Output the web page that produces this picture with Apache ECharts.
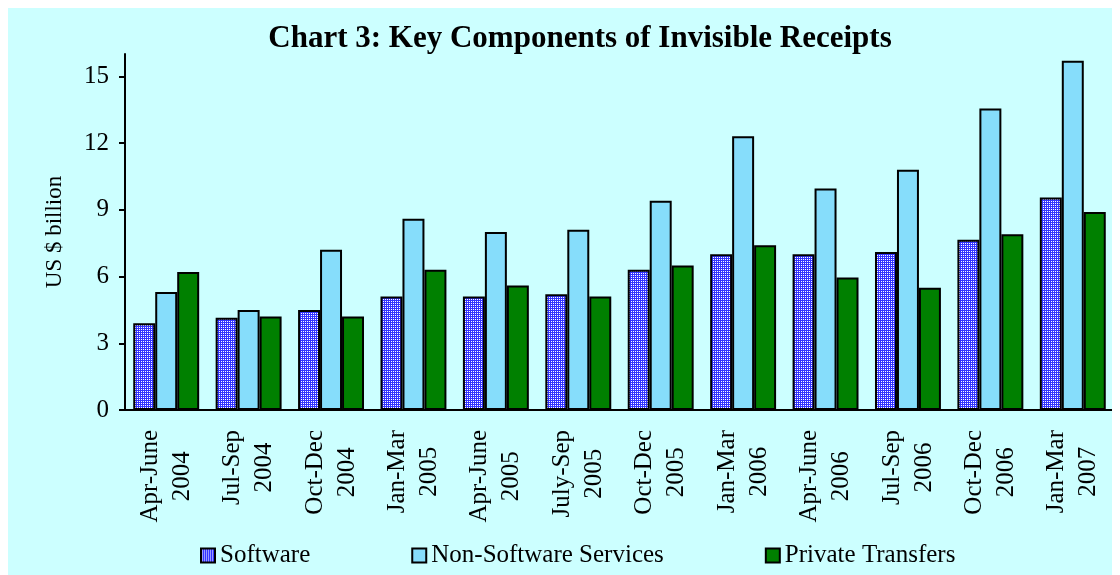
<!DOCTYPE html>
<html>
<head>
<meta charset="utf-8">
<script src="https://cdn.jsdelivr.net/npm/echarts@6/dist/echarts.min.js"></script>
<style>
  body { margin: 8px; background: #ffffff; }
  #chart { width: 1112px; height: 567px; }
</style>
</head>
<body>
<div id="chart"></div>
<script>
// data
var quarters = ["Apr-June", "Jul-Sep", "Oct-Dec", "Jan-Mar", "Apr-June", "July-Sep",
                "Oct-Dec", "Jan-Mar", "Apr-June", "Jul-Sep", "Oct-Dec", "Jan-Mar"];
var years = ["2004", "2004", "2004", "2005", "2005", "2005",
             "2005", "2006", "2006", "2006", "2006", "2007"];
var software = [3.9, 4.15, 4.5, 5.1, 5.1, 5.2, 6.3, 7.0, 7.0, 7.1, 7.65, 9.55];
var nonSoftware = [5.3, 4.5, 7.2, 8.6, 8.0, 8.1, 9.4, 12.3, 9.95, 10.8, 13.55, 15.7];
var privateTransfers = [6.2, 4.2, 4.2, 6.3, 5.6, 5.1, 6.5, 7.4, 5.95, 5.5, 7.9, 8.9];
var yTicks = [0, 3, 6, 9, 12, 15];

var categories = quarters.map(function (q, i) { return q + "\n" + years[i]; });

// dotted blue fill for the Software bars
var pat = document.createElement("canvas");
pat.width = 2;
pat.height = 2;
var pctx = pat.getContext("2d");
pctx.fillStyle = "#3434ff";
pctx.fillRect(0, 0, 2, 2);
pctx.fillStyle = "#ffffff";
pctx.fillRect(1, 1, 1, 1);

var serif = "'Liberation Serif', 'Times New Roman', serif";
var border = { borderColor: "#000", borderWidth: 2 };

var myChart = echarts.init(document.getElementById("chart"));

myChart.setOption({
    backgroundColor: "#ccffff",
    animation: false,
    title: {
        text: "Chart 3: Key Components of Invisible Receipts",
        left: 567,
        top: 10,
        textAlign: "center",
        textStyle: { fontFamily: serif, fontSize: 31, fontWeight: "bold", color: "#000" }
    },
    legend: {
        left: 187,
        top: 530,
        icon: "rect",
        itemWidth: 14,
        itemHeight: 14,
        itemGap: 101,
        itemTextGap: 9,
        itemStyle: { borderColor: "#000", borderWidth: 2 },
        textStyle: { fontFamily: serif, fontSize: 25, color: "#000" },
        data: ["Software", "Non-Software Services", "Private Transfers"]
    },
    grid: { left: 117, right: 6, top: 46, bottom: 165 },
    xAxis: {
        type: "category",
        data: categories,
        axisLine: { lineStyle: { color: "#000", width: 2 } },
        axisTick: { length: 7, lineStyle: { color: "#000", width: 2 } },
        axisLabel: {
            rotate: 90,
            interval: 0,
            margin: 20,
            color: "#000",
            fontFamily: serif,
            fontSize: 25,
            formatter: function (v) {
                var p = v.split("\n");
                return "{a|" + p[0] + "}\n{a|" + p[1] + "}";
            },
            rich: { a: { align: "center", fontFamily: serif, fontSize: 25, lineHeight: 32, color: "#000" } }
        }
    },
    yAxis: {
        type: "value",
        min: 0,
        max: 16,
        interval: 3,
        name: "US $ billion",
        nameLocation: "middle",
        nameGap: 59,
        nameTextStyle: { fontFamily: serif, fontSize: 23, color: "#000" },
        splitLine: { show: false },
        axisLine: { show: true, lineStyle: { color: "#000", width: 2 } },
        axisTick: { show: true, length: 6, customValues: yTicks, lineStyle: { color: "#000", width: 2 } },
        axisLabel: {
            customValues: yTicks,
            margin: 16,
            color: "#000",
            fontFamily: serif,
            fontSize: 25
        }
    },
    series: [
        {
            name: "Software", type: "bar", data: software,
            barGap: "0%", barCategoryGap: "20%",
            itemStyle: Object.assign({ color: { image: pat, repeat: "repeat" } }, border)
        },
        {
            name: "Non-Software Services", type: "bar", data: nonSoftware,
            itemStyle: Object.assign({ color: "#86ddfb" }, border)
        },
        {
            name: "Private Transfers", type: "bar", data: privateTransfers,
            itemStyle: Object.assign({ color: "#008000" }, border)
        }
    ]
});
</script>
</body>
</html>
